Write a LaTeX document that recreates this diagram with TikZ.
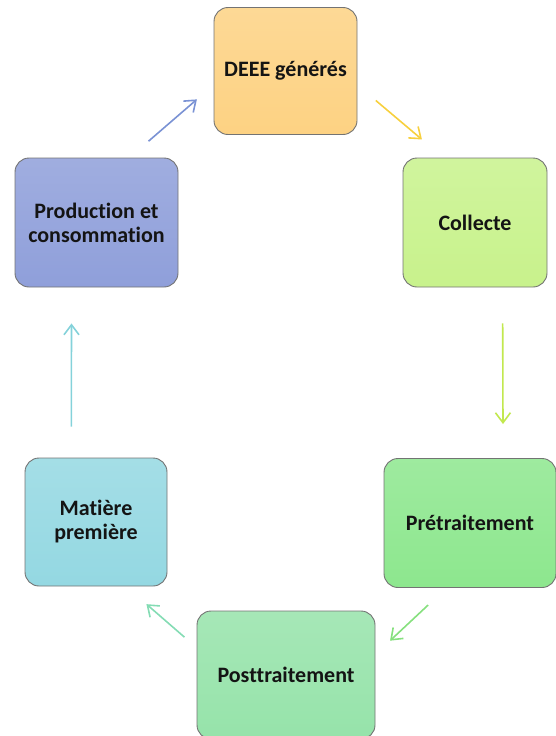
\documentclass[tikz,border=0pt]{standalone}
\usepackage{fontspec}
\setmainfont{Carlito}[Ligatures=NoCommon]
\usetikzlibrary{arrows.meta}

\definecolor{deeefill}{HTML}{FDD283}
\definecolor{collfill}{HTML}{C8F28C}
\definecolor{pretfill}{HTML}{8DE78E}
\definecolor{postfill}{HTML}{96E3AA}
\definecolor{matfill}{HTML}{94D8E2}
\definecolor{prodfill}{HTML}{8F9FDA}
\definecolor{prodarrow}{HTML}{7A92D4}
\definecolor{deeearrow}{HTML}{F7D03E}
\definecolor{collarrow}{HTML}{C2E84E}
\definecolor{pretarrow}{HTML}{86E07E}
\definecolor{postarrow}{HTML}{84DCB4}
\definecolor{matarrow}{HTML}{84D2DA}

\tikzset{
  stage/.style={draw=black!55, line width=.9pt, rounded corners=14pt,
    align=center, text=black!92, inner sep=0pt,
    font=\fontsize{22}{24}\selectfont\bfseries,
    top color=#1!85!white, bottom color=#1},
  flow/.style={line width=1.6pt, -{Straight Barb[length=10pt,width=15pt]}}
}

\begin{document}
\begin{tikzpicture}[x=1pt,y=-1pt]
\useasboundingbox (0,0) rectangle (555,736);
\node[stage=deeefill, minimum width=143pt, minimum height=127pt] (deee) at (285.5,71) {DEEE générés};
\node[stage=collfill, minimum width=144pt, minimum height=129pt] (coll) at (475,222.5) {Collecte};
\node[stage=pretfill, minimum width=172pt, minimum height=129pt] (pret) at (470,523) {Prétraitement};
\node[stage=postfill, minimum width=178pt, minimum height=128pt] (post) at (286,675) {Posttraitement};
\node[stage=matfill, minimum width=142pt, minimum height=128pt] (mat) at (96,522) {Matière\\première};
\node[stage=prodfill, minimum width=163pt, minimum height=129pt] (prod) at (96.5,222.5) {Production et\\consommation};
% the cycle
\draw[flow, draw=prodarrow, shorten <=25pt, shorten >=22pt] (prod.63) -- (deee.191);
\draw[flow, draw=deeearrow, shorten <=24pt, shorten >=28pt] (deee.-11) -- (coll.116);
\draw[flow, draw=collarrow, shorten <=36pt, shorten >=34pt] (coll.-67) -- (pret.63);
\draw[flow, draw=pretarrow, shorten <=25pt, shorten >=20pt] (pret.-110) -- (post.13);
\draw[flow, draw=postarrow, shorten <=16pt, shorten >=27pt] (post.163) -- (mat.-65);
\draw[flow, draw=matarrow, shorten <=31pt, shorten >=36pt] (mat.111) -- (prod.-111);
\end{tikzpicture}
\end{document}
